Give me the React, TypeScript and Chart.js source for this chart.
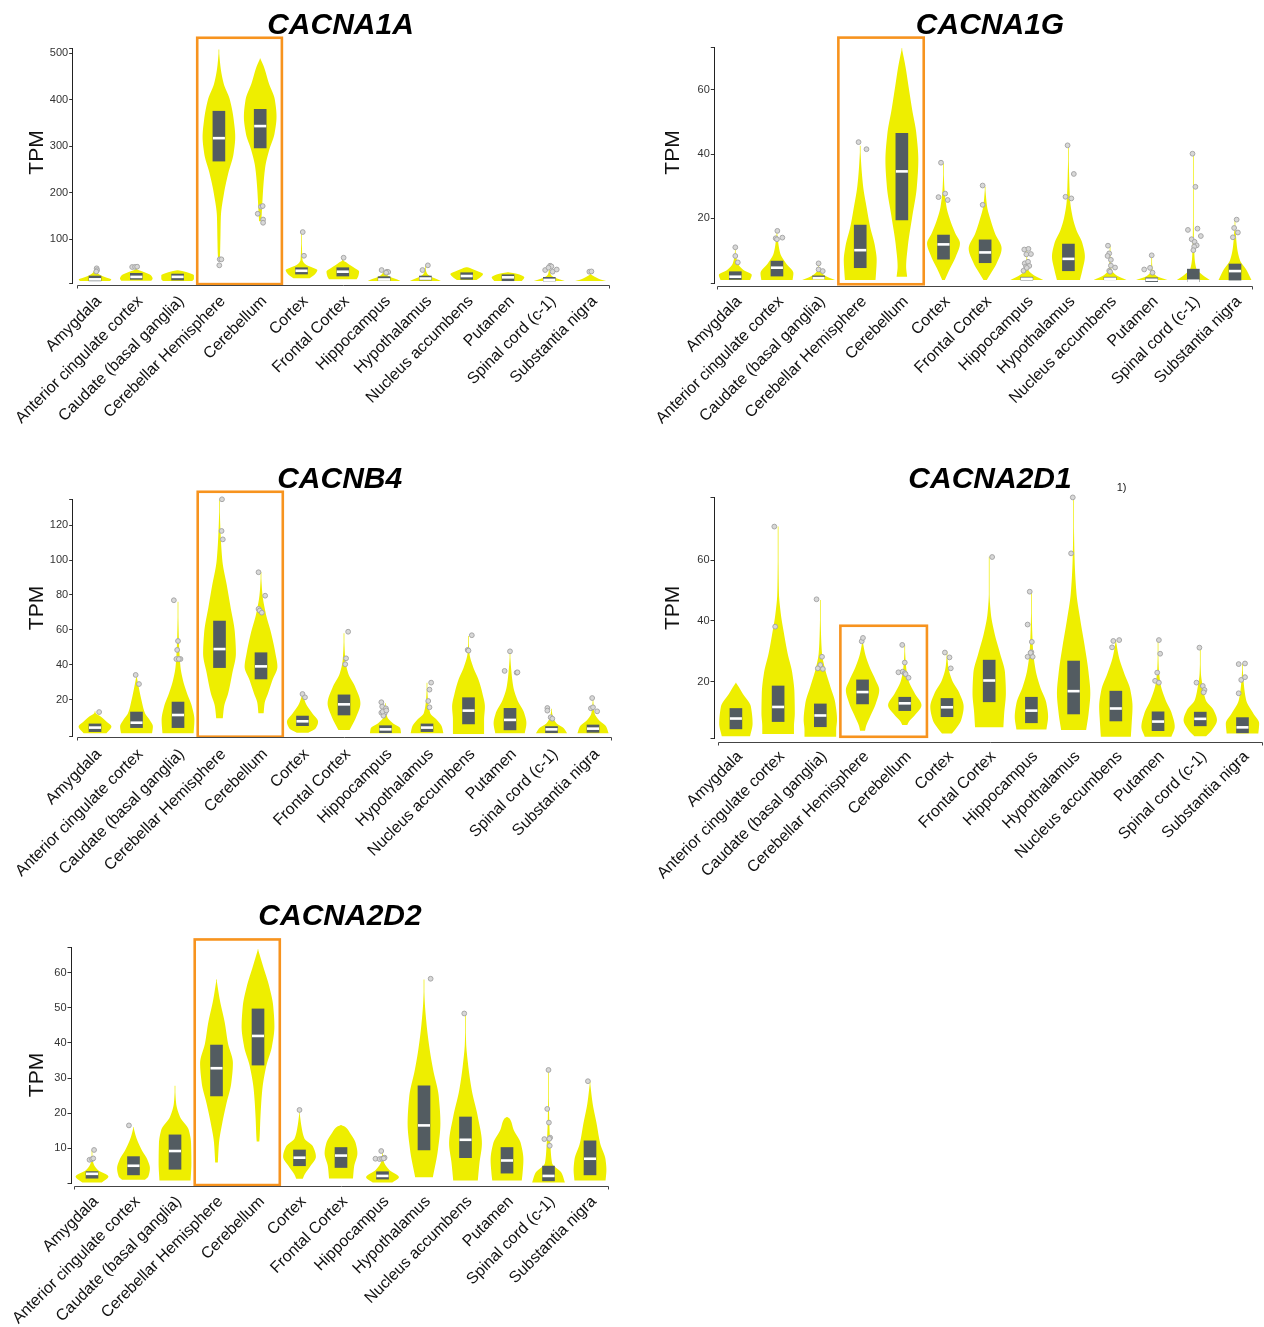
import React, { useEffect, useRef } from 'react';
import { Chart, registerables } from 'chart.js';

Chart.register(...registerables);

type Pair = [number, number];
type Outlier = [number, number, number];

const FONT = '"Liberation Sans", Arial, Helvetica, sans-serif';
const VIOLIN = '#EEEE00';
const BOX = '#535C61';
const ORANGE = '#F7931E';

const tissues: string[] = [
  'Amygdala',
  'Anterior cingulate cortex',
  'Caudate (basal ganglia)',
  'Cerebellar Hemisphere',
  'Cerebellum',
  'Cortex',
  'Frontal Cortex',
  'Hippocampus',
  'Hypothalamus',
  'Nucleus accumbens',
  'Putamen',
  'Spinal cord (c-1)',
  'Substantia nigra',
];

const highlightTissues = ['Cerebellar Hemisphere', 'Cerebellum'];

// ---------------- CACNA1A ----------------
const cacna1aTicks = [100, 200, 300, 400, 500];
const cacna1aQ1 = [10, 13.3, 11.8, 267.7, 296, 24.7, 20.4, 11, 11.8, 13.3, 10.3, 9.7, null];
const cacna1aMedian = [13.3, 18.5, 18.6, 317, 343, 31.7, 29.7, 13, 15, 20.4, 17.6, 12, null];
const cacna1aQ3 = [20.4, 26.2, 24.7, 375, 379, 38.3, 38.3, 19, 20.4, 27.5, 23.2, 17.6, null];
const cacna1aShapes: Pair[][] = [
  [[9.7, 0.92], [13, 1], [17, 0.7], [22, 0.35], [28, 0.12], [34, 0.04], [40, 0]],
  [[10.4, 0.92], [15, 1], [22, 0.9], [28, 0.55], [32, 0.25], [34.5, 0.06], [40, 0]],
  [[9.7, 0.9], [14, 1], [22, 1], [27, 0.7], [31, 0.3], [33, 0]],
  [[56, 0.03], [62, 0.06], [98, 0.09], [148, 0.12], [198, 0.31], [241, 0.57], [284, 0.9], [320, 1], [356, 0.91], [400, 0.67], [435, 0.29], [470, 0.1], [508, 0]],
  [[138, 0.07], [177, 0.13], [212, 0.19], [255, 0.31], [291, 0.55], [327, 0.88], [363, 1], [399, 0.9], [435, 0.53], [470, 0.23], [488.6, 0]],
  [[15.4, 0.5], [25, 0.85], [33, 0.97], [38, 0.7], [44, 0.3], [50, 0.12], [55, 0.06], [80, 0.03], [115, 0]],
  [[13.3, 0.85], [20, 0.95], [29.7, 1], [38, 0.7], [46, 0.35], [50, 0.2], [53, 0.05], [59.8, 0]],
  [[9.7, 1], [13, 0.8], [19, 0.34], [25, 0.12], [33, 0]],
  [[9.7, 0.95], [13, 0.75], [19, 0.35], [25, 0.12], [33, 0.03], [43.4, 0]],
  [[11.8, 0.6], [18, 0.85], [24.7, 1], [31, 0.65], [36, 0.3], [38.3, 0.15], [39.5, 0]],
  [[9.7, 0.85], [17.6, 1], [23, 0.75], [26, 0.45], [27.5, 0.2], [28.5, 0]],
  [[9.7, 0.95], [13, 0.65], [17.6, 0.3], [22, 0.12], [28, 0.05], [42.6, 0]],
  [[9.7, 0.95], [13, 0.6], [18, 0.3], [22, 0.1], [24.7, 0]],
];
const cacna1aOutliers: Outlier[] = [
  [0, 0.04, 37], [0, 0.05, 33], [0, 0.03, 30],
  [1, -0.1, 39.8], [1, -0.03, 40], [1, 0.02, 40.5],
  [3, 0.02, 56.3], [3, 0.06, 56.3], [3, 0.01, 43.4],
  [4, -0.06, 154.4], [4, 0.02, 169.5], [4, 0.06, 171], [4, 0.07, 142], [4, 0.07, 135],
  [5, 0.03, 115], [5, 0.06, 64],
  [6, 0.02, 59.8],
  [7, -0.06, 33.3], [7, 0.07, 29.7], [7, 0.1, 29], [7, 0.05, 27.6],
  [8, 0.06, 43.4], [8, -0.07, 33.3],
  [11, -0.1, 33.3], [11, 0.02, 42.6], [11, 0.05, 41], [11, -0.02, 38.3], [11, 0.08, 29.7], [11, 0.18, 34.4],
  [12, -0.03, 29.7], [12, 0.02, 30.3],
];

// ---------------- CACNA1G ----------------
const cacna1gTicks = [20, 40, 60];
const cacna1gQ1 = [1.0, 2.05, 1.2, 4.65, 19.5, 7.3, 6.2, 0.8, 3.7, 0.9, 0.3, 0.3, 0.8];
const cacna1gMedian = [1.85, 4.65, 1.4, 10.1, 34.6, 11.9, 9.4, 1.2, 7.4, 1.2, 0.9, 0.6, 3.6];
const cacna1gQ3 = [3.4, 6.7, 2.1, 17.9, 46.4, 14.8, 13.3, 1.7, 12.0, 1.7, 1.5, 4.2, 5.8];
const cacna1gShapes: Pair[][] = [
  [[0.8, 0.9], [2.4, 1], [3.9, 0.5], [6, 0.15], [9.1, 0.03], [11, 0]],
  [[0.8, 0.95], [2.9, 1], [6, 0.55], [9.1, 0.2], [13.2, 0.06], [16.4, 0]],
  [[0.8, 1], [1.85, 0.5], [2.9, 0.2], [4.1, 0.04], [6, 0]],
  [[0.8, 0.93], [2.9, 0.96], [7, 1], [11.2, 0.9], [17.4, 0.6], [23.6, 0.38], [29.8, 0.18], [36.1, 0.07], [42.6, 0]],
  [[1.85, 0.32], [5, 0.26], [11.2, 0.36], [20.5, 0.63], [29.8, 0.91], [38.1, 1], [46.4, 0.88], [53.7, 0.63], [60.9, 0.41], [67.2, 0.22], [72.9, 0]],
  [[0.8, 0.08], [3.9, 0.35], [8.1, 0.75], [12.2, 1], [15.3, 0.72], [19.5, 0.4], [23.6, 0.18], [29.8, 0.05], [37.1, 0]],
  [[0.8, 0.1], [2.9, 0.35], [6, 0.7], [10.6, 1], [15.3, 0.6], [19.5, 0.33], [23.6, 0.12], [29.8, 0]],
  [[0.8, 1], [2.4, 0.4], [3.9, 0.1], [6, 0.04], [10.6, 0]],
  [[0.8, 0.7], [3.9, 0.85], [8.1, 1], [12.2, 0.85], [16.4, 0.48], [20.5, 0.25], [25.7, 0.1], [34, 0.04], [42.7, 0]],
  [[0.8, 1], [2.4, 0.35], [3.9, 0.1], [6, 0.04], [11.5, 0]],
  [[0.8, 0.95], [2.05, 0.3], [3.4, 0.07], [8.5, 0]],
  [[0.8, 1], [2.4, 0.55], [4.4, 0.18], [8.1, 0.07], [15.3, 0.03], [40.2, 0]],
  [[0.8, 1], [3.9, 0.7], [7, 0.3], [11.2, 0.12], [19.6, 0]],
];
const cacna1gOutliers: Outlier[] = [
  [0, 0, 11], [0, 0, 8.3], [0, 0.06, 6.3],
  [1, 0.01, 16.1], [1, -0.03, 13.8], [1, 0, 13.5], [1, 0.13, 14],
  [2, 0, 6], [2, 0, 4.1], [2, 0.1, 3.6],
  [3, -0.04, 43.7], [3, 0.15, 41.5],
  [5, -0.06, 37.3], [5, -0.12, 26.6], [5, 0.04, 27.7], [5, 0.1, 25.7],
  [6, -0.06, 30.2], [6, -0.06, 24.2],
  [7, -0.06, 10.3], [7, 0.04, 10.5], [7, -0.01, 8.8], [7, 0.1, 8.9], [7, -0.05, 6], [7, 0.03, 6.5], [7, -0.02, 5], [7, -0.08, 3.7], [7, 0.06, 5.2], [7, 0, 4.6],
  [8, -0.02, 42.7], [8, 0.13, 33.8], [8, -0.07, 26.7], [8, 0.07, 26.2],
  [9, -0.05, 11.5], [9, -0.02, 9.1], [9, -0.06, 8.3], [9, 0.02, 7.1], [9, 0.02, 5.3], [9, 0.12, 4.7], [9, -0.02, 3.7], [9, 0, 3.4],
  [10, 0, 8.5], [10, -0.18, 4.1], [10, -0.04, 4.6], [10, 0.02, 3.1],
  [11, -0.02, 40.1], [11, 0.05, 29.8], [11, -0.13, 16.4], [11, 0.1, 16.8], [11, 0.18, 14.5], [11, -0.04, 13.5], [11, 0.03, 12.7], [11, 0.08, 11.6], [11, 0.02, 11.2], [11, 0, 10.1],
  [12, 0.04, 19.6], [12, -0.02, 17], [12, 0.07, 15.6], [12, -0.05, 14.1],
];

// ---------------- CACNB4 ----------------
const cacnb4Ticks = [20, 40, 60, 80, 100, 120];
const cacnb4Q1 = [1.9, 4.2, 4.2, 38.5, 32, 5.3, 11.4, 1.3, 1.9, 6.3, 2.9, 1.3, 1.5];
const cacnb4Median = [4.2, 7.0, 11.4, 49.1, 39.2, 7.8, 17.5, 3.2, 4.2, 13.9, 8.6, 3.2, 3.6];
const cacnb4Q3 = [6.3, 13.1, 18.8, 65.1, 47, 10.8, 22.9, 5.3, 6.3, 21.3, 15.2, 4.8, 5.7];
const cacnb4Shapes: Pair[][] = [
  [[0.95, 0.7], [4.8, 1], [7.6, 0.7], [10.5, 0.35], [12.4, 0.05], [13.5, 0]],
  [[0.95, 0.95], [4.8, 1], [8.6, 0.8], [12.4, 0.52], [20, 0.3], [27.6, 0.13], [34, 0]],
  [[0.95, 0.95], [8.6, 1], [16.2, 0.85], [23.8, 0.55], [31.4, 0.3], [39, 0.15], [50.5, 0.07], [76.2, 0]],
  [[9.5, 0.2], [16.2, 0.28], [23.8, 0.53], [35.2, 0.78], [46.6, 1], [58.1, 0.94], [73.3, 0.67], [84.8, 0.46], [100, 0.17], [119, 0.05], [134.7, 0]],
  [[12.4, 0.16], [18.1, 0.22], [23.8, 0.43], [31.4, 0.7], [39, 1], [46.6, 0.88], [58.1, 0.62], [69.5, 0.29], [81, 0.08], [93, 0]],
  [[1.3, 0.35], [3.8, 0.8], [7.6, 0.95], [12.4, 0.6], [18.1, 0.2], [23.8, 0]],
  [[2.9, 0.34], [4.8, 0.45], [10.5, 0.75], [18.1, 1], [27.6, 0.68], [35.2, 0.26], [42.9, 0.08], [58.1, 0]],
  [[0.95, 0.95], [3.8, 0.9], [6.7, 0.45], [10.5, 0.1], [18.1, 0]],
  [[0.95, 1], [4.8, 0.9], [8.6, 0.6], [12.4, 0.2], [20, 0.06], [29.9, 0]],
  [[0.6, 0.95], [8.6, 0.95], [16.2, 1], [23.8, 0.85], [31.4, 0.62], [39, 0.28], [46.6, 0.06], [56.6, 0]],
  [[0.95, 0.9], [6.7, 1], [12.4, 0.87], [20, 0.45], [27.6, 0.2], [39, 0.06], [47.6, 0]],
  [[0.95, 0.95], [3.8, 0.75], [6.7, 0.3], [10.5, 0.08], [15, 0]],
  [[0.95, 0.95], [4.8, 0.8], [8.6, 0.35], [12.4, 0.1], [21.5, 0]],
];
const cacnb4Outliers: Outlier[] = [
  [0, 0.1, 13.1],
  [1, -0.02, 34.3], [1, 0.06, 29.1],
  [2, -0.1, 77], [2, 0, 53.7], [2, -0.02, 48.6], [2, -0.04, 43.4], [2, 0.06, 43.4], [2, 0.02, 43.4],
  [3, 0.06, 134.7], [3, 0.05, 116.6], [3, 0.08, 111.8],
  [4, -0.06, 93], [4, 0.1, 79.6], [4, -0.06, 72], [4, -0.03, 71.1], [4, 0.02, 69.9],
  [5, 0, 23.4], [5, 0.06, 21.5],
  [6, 0.1, 59], [6, 0.05, 43.8], [6, 0.03, 40.4],
  [7, -0.1, 18.7], [7, -0.08, 16.2], [7, 0.01, 15.2], [7, -0.1, 12.7], [7, -0.02, 12.4], [7, -0.05, 11], [7, -0.07, 13.3], [7, 0.02, 14],
  [8, 0.1, 29.9], [8, 0.06, 25.9], [8, 0.03, 19.4], [8, 0.06, 15.8],
  [9, 0.08, 57], [9, -0.02, 48.6], [9, 0, 48.2],
  [10, 0, 47.8], [10, -0.13, 36.6], [10, 0.16, 35.6], [10, 0.18, 35.8],
  [11, -0.1, 15.4], [11, -0.1, 13.9], [11, -0.02, 10.1], [11, 0.02, 9.3],
  [12, -0.02, 21.1], [12, -0.05, 15.2], [12, 0, 15.8], [12, 0.1, 13.5],
];

// ---------------- CACNA2D1 ----------------
const cacna2d1Ticks = [20, 40, 60];
const cacna2d1Q1 = [4.5, 6.9, 5.2, 12.7, 10.5, 8.5, 13.4, 6.5, 9.4, 7.1, 3.9, 5.5, 3.2];
const cacna2d1Median = [7.9, 11.7, 8.9, 16.6, 12.9, 11.6, 20.4, 10.5, 16.9, 11.2, 6.9, 7.8, 5.0];
const cacna2d1Q3 = [11.2, 18.6, 12.7, 20.6, 14.9, 14.5, 27.1, 14.9, 26.8, 16.9, 10.1, 10.0, 8.2];
const cacna2d1Shapes: Pair[][] = [
  [[2.1, 0.85], [6.3, 1], [11.8, 0.9], [16.2, 0.4], [18.5, 0.15], [19.7, 0]],
  [[2.8, 0.95], [5.2, 0.95], [9.6, 1], [16.2, 0.98], [22.8, 0.85], [29.3, 0.57], [35.9, 0.35], [42.4, 0.16], [49, 0.05], [60, 0.02], [71, 0]],
  [[1.9, 0.95], [4.1, 0.95], [7.4, 1], [12.9, 0.9], [18.4, 0.6], [24.9, 0.25], [29.3, 0.1], [35.9, 0.04], [46.9, 0]],
  [[3.9, 0.15], [5.2, 0.2], [8.5, 0.45], [12.9, 0.8], [17.3, 1], [20.6, 0.78], [24.9, 0.42], [29.3, 0.15], [33.7, 0]],
  [[5.8, 0.15], [6.9, 0.25], [9, 0.6], [12.3, 1], [16.2, 0.6], [20.6, 0.22], [24.9, 0.08], [32.1, 0]],
  [[3, 0.3], [4.7, 0.55], [7.4, 0.85], [11.8, 1], [16.2, 0.75], [20.6, 0.3], [24.9, 0.08], [29.9, 0]],
  [[5, 0.85], [9.6, 0.9], [16.2, 1], [22.8, 0.95], [29.3, 0.65], [35.9, 0.32], [42.4, 0.1], [49, 0.02], [61.1, 0]],
  [[4.3, 0.9], [8.5, 1], [12.9, 0.9], [18.4, 0.52], [23.9, 0.25], [30.4, 0.1], [40.3, 0.03], [49.6, 0]],
  [[4.1, 0.75], [9.6, 0.9], [16.2, 1], [22.8, 0.9], [31.5, 0.67], [40.3, 0.4], [49.1, 0.17], [60, 0.06], [71, 0.02], [80.9, 0]],
  [[1.9, 0.9], [6.3, 0.95], [11.8, 1], [17.3, 0.87], [22.8, 0.5], [28.2, 0.18], [33.7, 0]],
  [[1.9, 0.8], [5.2, 1], [9.6, 0.82], [14, 0.45], [19.5, 0.14], [24.9, 0.04], [33.7, 0]],
  [[2.1, 0.35], [4.1, 0.7], [7.4, 1], [10.7, 0.8], [14, 0.33], [18.4, 0.15], [22.8, 0.04], [31.2, 0]],
  [[3, 0.95], [6.3, 1], [9.6, 0.65], [14, 0.22], [20.6, 0.06], [26, 0]],
];
const cacna2d1Outliers: Outlier[] = [
  [1, -0.09, 71], [1, -0.07, 38.1],
  [2, -0.09, 47.1], [2, 0.04, 28.2], [2, 0, 25.5], [2, -0.06, 24.4], [2, 0.06, 24.2],
  [3, -0.02, 33.3], [3, 0.01, 34.4],
  [4, -0.06, 32.1], [4, 0, 26.3], [4, -0.15, 23.1], [4, -0.05, 23.3], [4, 0, 22.8], [4, 0.02, 22.5], [4, 0.09, 21.3],
  [5, -0.05, 29.6], [5, 0.06, 28], [5, 0.09, 24.4],
  [6, 0.07, 61],
  [7, -0.04, 49.6], [7, -0.09, 38.8], [7, 0.01, 33.1], [7, 0, 29.7], [7, -0.09, 28.2], [7, 0.03, 28.2], [7, -0.02, 29.5],
  [8, -0.02, 80.6], [8, -0.06, 62.2],
  [9, -0.06, 33.4], [9, 0.08, 33.7], [9, -0.09, 31.3],
  [10, 0.02, 33.7], [10, 0.05, 29.2], [10, -0.02, 23], [10, -0.07, 20.3], [10, 0.02, 19.7],
  [11, -0.02, 31.2], [11, -0.09, 19.7], [11, 0.06, 18.6], [11, 0.1, 17.3], [11, 0.08, 16.5],
  [12, -0.09, 25.8], [12, 0.06, 26], [12, -0.03, 20.6], [12, 0.06, 21.5], [12, -0.09, 16.2],
];

// ---------------- CACNA2D2 ----------------
const cacna2d2Ticks = [10, 20, 30, 40, 50, 60];
const cacna2d2Q1 = [1.45, 2.4, 4, 24.9, 33.7, 5, 4.5, 1.2, 9.5, 7.3, 2.9, 0.7, 2.4];
const cacna2d2Median = [2.7, 5, 9.2, 32.8, 42, 7.3, 7.9, 2.1, 16.5, 12.4, 6.5, 2.1, 7];
const cacna2d2Q3 = [3.34, 7.6, 13.8, 39.4, 49.7, 9.5, 10.2, 3.3, 27.8, 18.9, 10.2, 4.9, 12.1];
const cacna2d2Shapes: Pair[][] = [
  [[0.2, 0.6], [1.9, 1], [3.8, 0.35], [5.5, 0.1], [7, 0.03], [9.5, 0]],
  [[1, 0.7], [1.9, 0.9], [4.3, 1], [6.7, 0.85], [9.5, 0.5], [13.3, 0.15], [16, 0]],
  [[0.8, 0.95], [5.7, 1], [11.4, 0.98], [15.2, 0.84], [19, 0.3], [22.8, 0.07], [27.8, 0]],
  [[5.9, 0.08], [11.4, 0.15], [17.1, 0.35], [22.8, 0.61], [28.5, 0.9], [34.2, 1], [39.9, 0.7], [45.6, 0.51], [52.3, 0.2], [58.1, 0]],
  [[11.9, 0.08], [13.3, 0.1], [19, 0.15], [26.6, 0.26], [33.3, 0.5], [39, 0.85], [44.7, 1], [50.4, 0.93], [56, 0.69], [61.7, 0.32], [66.7, 0]],
  [[1.3, 0.2], [2.4, 0.3], [4.8, 0.65], [7.6, 1], [10.5, 0.82], [12.8, 0.3], [16.2, 0.12], [20.4, 0]],
  [[1.4, 0.73], [4.8, 0.8], [8.6, 1], [11.4, 0.9], [14.3, 0.56], [16.2, 0.23], [16.6, 0]],
  [[0.2, 0.6], [1.7, 1], [3.8, 0.41], [6.2, 0.08], [9.2, 0]],
  [[1.7, 0.54], [9.5, 0.85], [17.1, 1], [24.7, 0.9], [32.3, 0.56], [38, 0.35], [45.6, 0.15], [52.3, 0.04], [58.1, 0]],
  [[0.8, 0.75], [5.7, 0.85], [11.4, 1], [19, 0.75], [26.6, 0.38], [34.2, 0.15], [39.9, 0.04], [48.3, 0]],
  [[0.8, 0.9], [2.9, 0.95], [6.7, 1], [11.4, 0.84], [15.2, 0.41], [18.5, 0.15], [18.9, 0]],
  [[0.2, 1], [2.9, 0.8], [5.7, 0.22], [10.5, 0.12], [17.1, 0.05], [24.7, 0.02], [32.3, 0]],
  [[0.8, 0.95], [3.8, 1], [6.7, 0.95], [11.4, 0.62], [17.1, 0.4], [22.8, 0.16], [29, 0]],
];
const cacna2d2Outliers: Outlier[] = [
  [0, 0.05, 9.5], [0, -0.06, 6.7], [0, 0, 6.9], [0, 0.03, 7.1],
  [1, -0.11, 16.5],
  [5, 0, 20.9],
  [7, -0.03, 9.2], [7, -0.17, 7.0], [7, -0.07, 6.9], [7, -0.01, 7], [7, 0.05, 7.3], [7, 0.03, 7.1],
  [8, 0.16, 58.3],
  [9, -0.03, 48.4],
  [11, 0, 32.3], [11, -0.03, 21.2], [11, 0.01, 17.3], [11, -0.1, 12.6], [11, 0.04, 13], [11, 0.02, 12.7], [11, 0.03, 10.7],
  [12, -0.05, 29.1],
];

// ---------------- layout of the five panels (page pixels) ----------------
interface Frame {
  left: number; top: number; w: number; h: number;
  areaLeft: number; areaTop: number; areaRight: number; areaBottom: number;
  c0: number; step: number; yMin: number; yMax: number;
  titleX: number; titleY: number; tpmX: number; tpmY: number;
  axisY: number; axisX0: number; axisX1: number;
  hiLow: number; hiHigh: number;
  note?: { text: string; x: number; y: number };
}

interface PanelSpec {
  gene: string;
  ticks: number[];
  q1: (number | null)[];
  median: (number | null)[];
  q3: (number | null)[];
  shapes: Pair[][];
  outliers: Outlier[];
  frame: Frame;
}

const panels: PanelSpec[] = [
  {
    gene: 'CACNA1A', ticks: cacna1aTicks, q1: cacna1aQ1, median: cacna1aMedian, q3: cacna1aQ3,
    shapes: cacna1aShapes, outliers: cacna1aOutliers,
    frame: {
      left: 0, top: 0, w: 640, h: 450, areaLeft: 72.7, areaTop: 48, areaRight: 611.3, areaBottom: 283,
      c0: 95, step: 41.3, yMin: 5.4, yMax: 511, titleX: 340.5, titleY: 34.3, tpmX: 43.3, tpmY: 152.5,
      axisY: 285, axisX0: 77, axisX1: 610, hiLow: 3, hiHigh: 533,
    },
  },
  {
    gene: 'CACNA1G', ticks: cacna1gTicks, q1: cacna1gQ1, median: cacna1gMedian, q3: cacna1gQ3,
    shapes: cacna1gShapes, outliers: cacna1gOutliers,
    frame: {
      left: 640, top: 0, w: 624, h: 450, areaLeft: 714.3, areaTop: 47.7, areaRight: 1257.3, areaBottom: 283.3,
      c0: 735.3, step: 41.64, yMin: -0.2, yMax: 73.06, titleX: 990, titleY: 34.3, tpmX: 679.3, tpmY: 152.5,
      axisY: 285.7, axisX0: 717, axisX1: 1253, hiLow: -0.5, hiHigh: 76.2,
    },
  },
  {
    gene: 'CACNB4', ticks: cacnb4Ticks, q1: cacnb4Q1, median: cacnb4Median, q3: cacnb4Q3,
    shapes: cacnb4Shapes, outliers: cacnb4Outliers,
    frame: {
      left: 0, top: 455, w: 640, h: 435, areaLeft: 72.7, areaTop: 499.3, areaRight: 613.9, areaBottom: 736,
      c0: 95, step: 41.5, yMin: -0.6, yMax: 134.7, titleX: 339.7, titleY: 488.3, tpmX: 43.3, tpmY: 608,
      axisY: 737.3, axisX0: 76.7, axisX1: 611.7, hiLow: -1, hiHigh: 139,
    },
  },
  {
    gene: 'CACNA2D1', ticks: cacna2d1Ticks, q1: cacna2d1Q1, median: cacna2d1Median, q3: cacna2d1Q3,
    shapes: cacna2d1Shapes, outliers: cacna2d1Outliers,
    frame: {
      left: 640, top: 455, w: 624, h: 435, areaLeft: 714, areaTop: 497.7, areaRight: 1263, areaBottom: 738.3,
      c0: 736, step: 42.4, yMin: 1.4, yMax: 80.5, titleX: 990, titleY: 488.3, tpmX: 679.3, tpmY: 607.8,
      axisY: 741.7, axisX0: 717.7, axisX1: 1262.5, hiLow: 1.9, hiHigh: 38.4,
      note: { text: '1)', x: 1116.7, y: 490.5 },
    },
  },
  {
    gene: 'CACNA2D2', ticks: cacna2d2Ticks, q1: cacna2d2Q1, median: cacna2d2Median, q3: cacna2d2Q3,
    shapes: cacna2d2Shapes, outliers: cacna2d2Outliers,
    frame: {
      left: 0, top: 890, w: 640, h: 437, areaLeft: 71, areaTop: 947.7, areaRight: 612, areaBottom: 1183.3,
      c0: 92, step: 41.5, yMin: 0, yMax: 67.15, titleX: 340, titleY: 925, tpmX: 43.3, tpmY: 1075,
      axisY: 1185.7, axisX0: 74, axisX1: 609.3, hiLow: -0.5, hiHigh: 69.5,
    },
  },
];

// ---------------- drawing helpers ----------------
function monotone(xs: number[], ys: number[]) {
  const n = xs.length;
  const dx: number[] = [];
  const m: number[] = [];
  for (let i = 0; i < n - 1; i++) {
    dx.push(xs[i + 1] - xs[i]);
    m.push((ys[i + 1] - ys[i]) / (xs[i + 1] - xs[i]));
  }
  const t: number[] = new Array(n).fill(0);
  t[0] = m[0];
  t[n - 1] = m[n - 2];
  for (let i = 1; i < n - 1; i++) {
    if (m[i - 1] * m[i] <= 0) t[i] = 0;
    else {
      const w1 = 2 * dx[i] + dx[i - 1];
      const w2 = dx[i] + 2 * dx[i - 1];
      t[i] = (w1 + w2) / (w1 / m[i - 1] + w2 / m[i]);
    }
  }
  return (x: number) => {
    let i = 0;
    while (i < n - 2 && x > xs[i + 1]) i++;
    const h = dx[i];
    const s = Math.min(1, Math.max(0, (x - xs[i]) / h));
    const s2 = s * s;
    const s3 = s2 * s;
    return (2 * s3 - 3 * s2 + 1) * ys[i] + (s3 - 2 * s2 + s) * h * t[i] + (-2 * s3 + 3 * s2) * ys[i + 1] + (s3 - s2) * h * t[i + 1];
  };
}

function drawViolin(ctx: CanvasRenderingContext2D, xs: any, ys: any, idx: number, prof: Pair[], hw: number) {
  const vals = prof.map((p) => p[0]);
  const ws = prof.map((p) => p[1]);
  const f = monotone(vals, ws);
  const cx = xs.getPixelForValue(idx);
  const yB = ys.getPixelForValue(vals[0]);
  const yT = ys.getPixelForValue(vals[vals.length - 1]);
  const rows: [number, number][] = [];
  for (let py = yB; py > yT; py -= 0.5) {
    const v = ys.getValueForPixel(py);
    rows.push([Math.max(0.35, Math.max(0, f(v)) * hw), py]);
  }
  rows.push([Math.max(0.35, ws[ws.length - 1] * hw), yT]);
  ctx.beginPath();
  ctx.moveTo(cx - rows[0][0], rows[0][1]);
  for (const [d, y] of rows) ctx.lineTo(cx - d, y);
  for (let k = rows.length - 1; k >= 0; k--) ctx.lineTo(cx + rows[k][0], rows[k][1]);
  ctx.closePath();
  ctx.fill();
}

function makePlugin(p: PanelSpec) {
  const fr = p.frame;
  return {
    id: 'violinPanel',
    beforeDatasetsDraw(chart: any) {
      const ctx = chart.ctx as CanvasRenderingContext2D;
      const xs = chart.scales.x;
      const ys = chart.scales.y;
      const band = xs.getPixelForValue(1) - xs.getPixelForValue(0);
      const hw = band * 0.395;
      ctx.save();
      ctx.fillStyle = VIOLIN;
      p.shapes.forEach((prof, i) => {
        if (prof && prof.length > 1) drawViolin(ctx, xs, ys, i, prof, hw);
      });
      ctx.restore();
    },
    afterDatasetDraw(chart: any, args: any) {
      if (args.index !== 1) return;
      const ctx = chart.ctx as CanvasRenderingContext2D;
      const xs = chart.scales.x;
      const ys = chart.scales.y;
      ctx.save();
      ctx.fillStyle = '#ffffff';
      p.median.forEach((md, i) => {
        if (md == null) return;
        const cx = xs.getPixelForValue(i);
        const y = ys.getPixelForValue(md);
        ctx.fillRect(cx - 6, y - 1.3, 12, 2.6);
      });
      ctx.restore();
    },
    afterDatasetsDraw(chart: any) {
      const ctx = chart.ctx as CanvasRenderingContext2D;
      const xs = chart.scales.x;
      const ys = chart.scales.y;
      const i0 = tissues.indexOf(highlightTissues[0]);
      const i1 = tissues.indexOf(highlightTissues[1]);
      const x0 = xs.getPixelForValue(i0 - 0.525);
      const x1 = xs.getPixelForValue(i1 + 0.525);
      const y0 = ys.getPixelForValue(fr.hiHigh);
      const y1 = ys.getPixelForValue(fr.hiLow);
      ctx.save();
      ctx.strokeStyle = ORANGE;
      ctx.lineWidth = 2.6;
      ctx.strokeRect(x0, y0, x1 - x0, y1 - y0);
      ctx.restore();
    },
    afterDraw(chart: any) {
      const ctx = chart.ctx as CanvasRenderingContext2D;
      ctx.save();
      const ay = Math.round(fr.axisY - fr.top) + 0.5;
      const ax0 = Math.round(fr.axisX0 - fr.left) + 0.5;
      const ax1 = Math.round(fr.axisX1 - fr.left) - 0.5;
      ctx.strokeStyle = '#444';
      ctx.lineWidth = 1;
      ctx.beginPath();
      ctx.moveTo(ax0, ay + 3);
      ctx.lineTo(ax0, ay);
      ctx.lineTo(ax1, ay);
      ctx.lineTo(ax1, ay + 3);
      ctx.stroke();
      ctx.fillStyle = '#000';
      ctx.font = `italic bold 30px ${FONT}`;
      ctx.textAlign = 'center';
      ctx.textBaseline = 'alphabetic';
      ctx.fillText(p.gene, fr.titleX - fr.left, fr.titleY - fr.top);
      ctx.save();
      ctx.translate(fr.tpmX - fr.left, fr.tpmY - fr.top);
      ctx.rotate(-Math.PI / 2);
      ctx.font = `21px ${FONT}`;
      ctx.fillStyle = '#111';
      ctx.textAlign = 'center';
      ctx.textBaseline = 'alphabetic';
      ctx.fillText('TPM', 0, 0);
      ctx.restore();
      if (fr.note) {
        ctx.font = `11px ${FONT}`;
        ctx.fillStyle = '#222';
        ctx.textAlign = 'left';
        ctx.fillText(fr.note.text, fr.note.x - fr.left, fr.note.y - fr.top);
      }
      ctx.restore();
    },
  };
}

function buildConfig(p: PanelSpec): any {
  const fr = p.frame;
  const xMin = -(fr.c0 - fr.areaLeft) / fr.step;
  const xMax = (fr.areaRight - fr.c0) / fr.step;
  const boxes = p.q1
    .map((q, i) => (q == null || p.q3[i] == null ? null : { x: i, y: [q, p.q3[i]] }))
    .filter((b) => b !== null);
  const points = p.outliers.map(([i, j, v]) => ({ x: i + j, y: v }));
  const yAreaLeft = fr.areaLeft - fr.left;
  return {
    type: 'bar',
    data: {
      datasets: [
        {
          type: 'scatter',
          data: points,
          pointRadius: 2.4,
          pointHoverRadius: 2.4,
          backgroundColor: '#d8d8d8',
          borderColor: '#a6a6a6',
          borderWidth: 1,
          clip: false,
        },
        {
          type: 'bar',
          data: boxes,
          backgroundColor: BOX,
          barThickness: 12,
          borderWidth: 0,
          grouped: false,
          clip: false,
        },
      ],
    },
    options: {
      responsive: false,
      animation: false,
      devicePixelRatio: 1,
      events: [],
      layout: {
        padding: { left: 0, top: fr.areaTop - fr.top, right: fr.w - (fr.areaRight - fr.left), bottom: 0 },
      },
      plugins: {
        legend: { display: false },
        tooltip: { enabled: false },
        title: { display: false },
      },
      scales: {
        x: {
          type: 'linear',
          offset: false,
          min: xMin,
          max: xMax,
          afterBuildTicks: (s: any) => {
            s.ticks = tissues.map((_, i) => ({ value: i }));
          },
          afterFit: (s: any) => {
            s.height = fr.h - (fr.areaBottom - fr.top);
            s.paddingLeft = 0;
            s.paddingRight = 0;
          },
          ticks: {
            autoSkip: false,
            minRotation: 45,
            maxRotation: 45,
            padding: 9,
            labelOffset: 4,
            color: '#111',
            font: { family: FONT, size: 16 },
            callback: (v: any) => tissues[Math.round(Number(v))] ?? '',
          },
          grid: { display: false, drawTicks: false, offset: false },
          border: { display: false },
        },
        y: {
          type: 'linear',
          min: fr.yMin,
          max: fr.yMax,
          afterBuildTicks: (s: any) => {
            s.ticks = [fr.yMin, ...p.ticks, fr.yMax].map((value) => ({ value }));
          },
          afterFit: (s: any) => {
            s.width = yAreaLeft;
            s.paddingTop = 0;
            s.paddingBottom = 0;
          },
          ticks: {
            padding: 1,
            color: '#333',
            font: { family: FONT, size: 11 },
            callback: (v: any) => (p.ticks.includes(Number(v)) ? String(v) : ''),
          },
          grid: { display: true, drawOnChartArea: false, drawTicks: true, tickLength: 3.5, color: '#333', lineWidth: 1 },
          border: { display: true, color: '#222', width: 1 },
        },
      },
    },
    plugins: [makePlugin(p)],
  };
}

function ViolinPanel({ spec }: { spec: PanelSpec }) {
  const ref = useRef<HTMLCanvasElement>(null);
  useEffect(() => {
    if (!ref.current) return;
    const chart = new Chart(ref.current, buildConfig(spec));
    return () => chart.destroy();
  }, [spec]);
  const fr = spec.frame;
  return (
    <canvas
      ref={ref}
      width={fr.w}
      height={fr.h}
      style={{ position: 'absolute', left: fr.left, top: fr.top, width: fr.w, height: fr.h }}
    />
  );
}

export default function App() {
  Chart.defaults.font.family = FONT;
  return (
    <div style={{ position: 'absolute', left: 0, top: 0, width: 1264, height: 1327, background: '#ffffff', overflow: 'hidden' }}>
      {panels.map((p) => (
        <ViolinPanel key={p.gene} spec={p} />
      ))}
    </div>
  );
}
